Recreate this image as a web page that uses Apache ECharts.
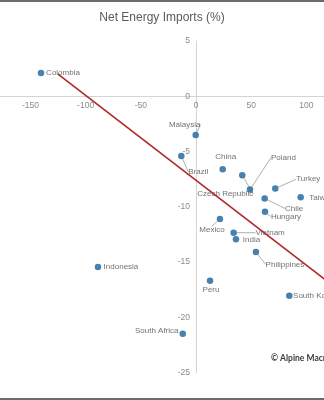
<!DOCTYPE html>
<html>
<head>
<meta charset="utf-8">
<script src="https://cdn.jsdelivr.net/npm/echarts@6/dist/echarts.min.js"></script>
<style>
  html, body { margin: 0; padding: 0; background: #fff; }
  #chart { width: 324px; height: 400px; }
</style>
</head>
<body>
<div id="chart"></div>
<script>
// Country scatter with fitted trend line
const countries = ['Colombia', 'Malaysia', 'Brazil', 'China', 'Czech Republic', 'Poland', 'Turkey',
  'Taiwan', 'Chile', 'Hungary', 'Mexico', 'Vietnam', 'India', 'Philippines', 'Indonesia', 'Peru',
  'South Korea', 'South Africa'];
const xValues = [-140.4, -0.3, -13.3, 24.2, 41.9, 48.9, 71.8, 94.8, 62.2, 62.5, 21.7, 34.1, 36.2,
  54.3, -88.8, 12.7, 84.5, -12.0];
const yValues = [2.1, -3.5, -5.4, -6.6, -7.15, -8.45, -8.35, -9.15, -9.25, -10.45, -11.1, -12.35,
  -12.95, -14.1, -15.45, -16.7, -18.05, -21.5];
const trendX = [-125, 160];
const trendY = [2.0, -19.9];
const yTicks = [5, 0, -5, -10, -15, -20, -25];

// label offset from the dot centre (px) and whether a leader line is drawn
const labelPlacement = {
  'Colombia': [22, 0, false],
  'Malaysia': [-11, -10.5, true],
  'Brazil': [17, 16, true],
  'China': [3, -12, false],
  'Czech Republic': [-17, 19, true],
  'Poland': [33.5, -32, true],
  'Turkey': [33, -9.3, true],
  'Taiwan': [21, 0, false],
  'Chile': [29.5, 10, true],
  'Hungary': [21, 5, true],
  'Mexico': [-8, 11.3, true],
  'Vietnam': [36.5, 0, true],
  'India': [15.5, 0.7, false],
  'Philippines': [29, 12.3, true],
  'Indonesia': [23, 0, false],
  'Peru': [1, 8.7, false],
  'South Korea': [26, 0, false],
  'South Africa': [-26, -2.6, false]
};

const chart = echarts.init(document.getElementById('chart'), null, { renderer: 'canvas' });

const points = countries.map((name, i) => ({
  name: name,
  value: [xValues[i], yValues[i]],
  labelLine: { show: labelPlacement[name][2] }
}));

// plot geometry: the origin sits at (196, 96)
const pxPerX = 1.104;
const pxPerY = 11.05;
const xMin = -200, xMax = 200, yMin = -25, yMax = 5;
const gridLeft = 196 + xMin * pxPerX;
const gridTop = 41;
const gridHeight = (yMax - yMin) * pxPerY;
const zeroY = gridTop + yMax * pxPerY;

chart.setOption({
  animation: false,
  backgroundColor: '#fff',
  textStyle: { fontFamily: 'Liberation Sans, Arial, sans-serif' },
  title: {
    text: 'Net Energy Imports (%)',
    left: 'center',
    top: 7,
    textStyle: { fontSize: 12, fontWeight: 'normal', color: '#5a5a5a' }
  },
  grid: {
    left: gridLeft,
    top: gridTop,
    width: (xMax - xMin) * pxPerX,
    height: gridHeight,
    containLabel: false,
    outerBoundsMode: 'none'
  },
  xAxis: {
    type: 'value',
    min: xMin,
    max: xMax,
    interval: 50,
    position: 'top',
    offset: -(zeroY - gridTop),
    axisLine: { onZero: false, lineStyle: { color: '#d4d4d4', width: 1 } },
    axisTick: { show: false },
    splitLine: { show: false },
    axisLabel: { inside: true, color: '#8a8a8a', fontSize: 8.5, margin: 5, showMinLabel: false, showMaxLabel: false }
  },
  yAxis: {
    type: 'value',
    min: yMin,
    max: yMax,
    interval: 5,
    position: 'left',
    offset: -(196 - gridLeft),
    axisLine: { onZero: false, lineStyle: { color: '#d4d4d4', width: 1 } },
    axisTick: { show: false },
    splitLine: { show: false },
    axisLabel: {
      color: '#8a8a8a', fontSize: 8.5, margin: 6,
      formatter: v => (yTicks.indexOf(v) >= 0 ? String(v) : '')
    }
  },
  series: [
    {
      type: 'line',
      data: trendX.map((x, i) => [x, trendY[i]]),
      symbol: 'none',
      lineStyle: { color: '#b0262a', width: 1.6 },
      z: 3,
      silent: true
    },
    {
      type: 'scatter',
      data: points,
      symbolSize: 6.5,
      itemStyle: { color: '#1b6199' },
      z: 2,
      label: {
        show: true,
        position: 'inside',
        formatter: '{b}',
        color: '#4d4d4d',
        fontSize: 8,
        align: 'center',
        verticalAlign: 'middle'
      },
      labelLine: {
        lineStyle: { color: '#9a9a9a', width: 0.8 }
      },
      labelLayout: function (params) {
        const p = labelPlacement[countries[params.dataIndex]];
        return { dx: p[0], dy: p[1] };
      }
    }
  ],
  graphic: [
    { type: 'rect', shape: { x: 0, y: 0, width: 324, height: 2 }, style: { fill: '#6b6b6b' } },
    { type: 'rect', shape: { x: 0, y: 398, width: 324, height: 2 }, style: { fill: '#6b6b6b' } },
    {
      type: 'text', left: 271, top: 354,
      style: { text: '\u00A9 Alpine Macro', font: 'bold 8.5px Lato, sans-serif', fill: '#3c3c3c' }
    }
  ]
});
</script>
</body>
</html>
